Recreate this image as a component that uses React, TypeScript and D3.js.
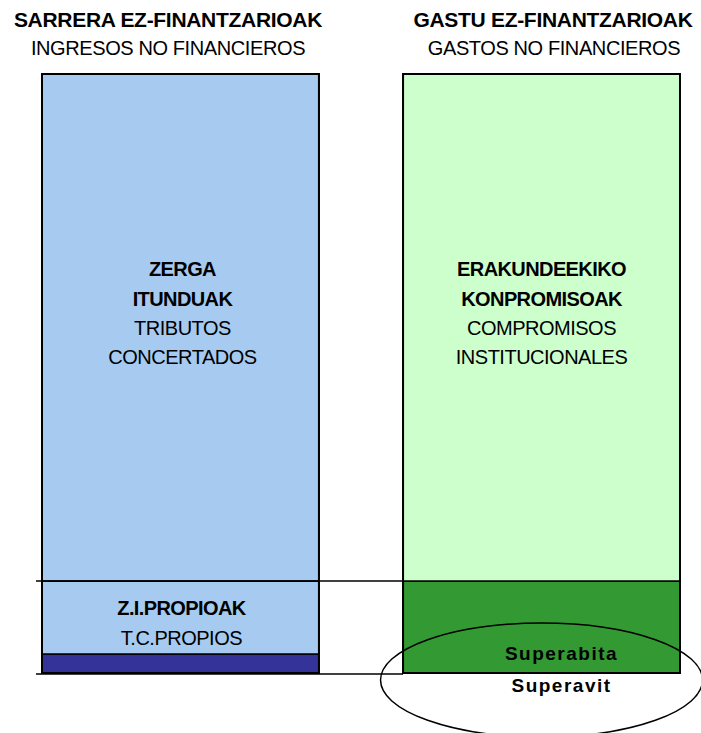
import React from "react";
import * as d3 from "d3";

// Euskara / castellano headings
const headsEu = ["SARRERA EZ-FINANTZARIOAK", "GASTU EZ-FINANTZARIOAK"];
const headsEs = ["INGRESOS NO FINANCIEROS", "GASTOS NO FINANCIEROS"];

// income column, bottom -> top
const incomeNames = ["Otros", "T.C.PROPIOS", "TRIBUTOS CONCERTADOS"];
const incomeValues = [19, 73, 507];
const incomeColors = ["#333399", "#A6CAF0", "#A6CAF0"];

// expense column, bottom -> top
const expenseNames = ["Superavit", "COMPROMISOS INSTITUCIONALES"];
const expenseValues = [92, 507];
const expenseColors = ["#339933", "#CCFFCC"];

const W = 701;
const H = 733;
const FONT = "'Liberation Sans', Arial, sans-serif";

const App = () => {
  const total = d3.sum(incomeValues);
  const y = d3.scaleLinear().domain([0, total]).range([673, 74]);
  const x = d3.scaleBand().domain(["in", "out"]).range([42, 680]).paddingInner(0.233).paddingOuter(0);
  const bw = x.bandwidth();

  const stack = (vals: number[]) => {
    let acc = 0;
    return vals.map((v) => {
      const s = { y0: acc, y1: acc + v };
      acc += v;
      return s;
    });
  };
  const inSeg = stack(incomeValues);
  const outSeg = stack(expenseValues);

  const xIn = x("in")!;
  const xOut = x("out")!;
  const cIn = xIn + bw / 2;
  const cOut = xOut + bw / 2;

  const topMid = (y(inSeg[2].y0) + y(inSeg[2].y1)) / 2;
  const midIn = (y(inSeg[1].y0) + y(inSeg[1].y1)) / 2;

  const bold = { fontFamily: FONT, fontWeight: 700, fontSize: 20, fill: "#000", letterSpacing: -0.6 };
  const reg = { fontFamily: FONT, fontWeight: 400, fontSize: 20, fill: "#000", letterSpacing: -0.5 };

  return (
    <svg width={W} height={H} style={{ position: "absolute", left: 0, top: 0 }}>
      <rect width={W} height={H} fill="#fff" />

      {/* headings */}
      {headsEu.map((t, i) => (
        <text key={t} x={i === 0 ? 168 : 553} y={27} textAnchor="middle" {...bold} fontSize={21} letterSpacing={-0.3}>{t}</text>
      ))}
      {headsEs.map((t, i) => (
        <text key={t} x={i === 0 ? 168 : 554} y={55} textAnchor="middle" {...reg} fontSize={20} letterSpacing={-0.4}>{t}</text>
      ))}

      {/* income bar */}
      {inSeg.map((s, i) => (
        <rect key={incomeNames[i]} x={xIn} y={y(s.y1)} width={bw} height={y(s.y0) - y(s.y1)}
          fill={incomeColors[i]} stroke="#000" strokeWidth={1.5} />
      ))}
      {/* expense bar */}
      {outSeg.map((s, i) => (
        <rect key={expenseNames[i]} x={xOut} y={y(s.y1)} width={bw} height={y(s.y0) - y(s.y1)}
          fill={expenseColors[i]} stroke="#000" strokeWidth={1.5} />
      ))}
      <rect x={xIn} y={y(total)} width={bw} height={y(0) - y(total)} fill="none" stroke="#000" strokeWidth={2} />
      <rect x={xOut} y={y(total)} width={bw} height={y(0) - y(total)} fill="none" stroke="#000" strokeWidth={2} />

      {/* reference lines */}
      <line x1={36} x2={xOut} y1={y(inSeg[2].y0)} y2={y(inSeg[2].y0)} stroke="#000" strokeWidth={1.5} />
      <line x1={36} x2={xOut} y1={y(0) + 1} y2={y(0) + 1} stroke="#000" strokeWidth={1.5} />

      {/* labels */}
      <text x={cIn + 2} y={topMid - 52} textAnchor="middle" {...bold}>ZERGA</text>
      <text x={cIn + 2} y={topMid - 22} textAnchor="middle" {...bold}>ITUNDUAK</text>
      <text x={cIn + 2} y={topMid + 7} textAnchor="middle" {...reg}>TRIBUTOS</text>
      <text x={cIn + 2} y={topMid + 36} textAnchor="middle" {...reg}>CONCERTADOS</text>

      <text x={cOut} y={topMid - 52} textAnchor="middle" {...bold}>ERAKUNDEEKIKO</text>
      <text x={cOut} y={topMid - 22} textAnchor="middle" {...bold}>KONPROMISOAK</text>
      <text x={cOut} y={topMid + 7} textAnchor="middle" {...reg}>COMPROMISOS</text>
      <text x={cOut} y={topMid + 36} textAnchor="middle" {...reg}>INSTITUCIONALES</text>

      <text x={cIn + 1} y={midIn - 3} textAnchor="middle" {...bold}>Z.I.PROPIOAK</text>
      <text x={cIn + 1} y={midIn + 27} textAnchor="middle" {...reg}>T.C.PROPIOS</text>

      <text x={cOut + 20} y={y(0) - 13} textAnchor="middle" {...bold} fontSize={19} letterSpacing={1.5}>Superabita</text>
      <text x={cOut + 20} y={y(0) + 19} textAnchor="middle" {...bold} fontSize={19} letterSpacing={1.5}>Superavit</text>

      <ellipse cx={cOut} cy={y(0) + 7} rx={161} ry={57} fill="none" stroke="#000" strokeWidth={1.5} />
    </svg>
  );
};

export default App;
